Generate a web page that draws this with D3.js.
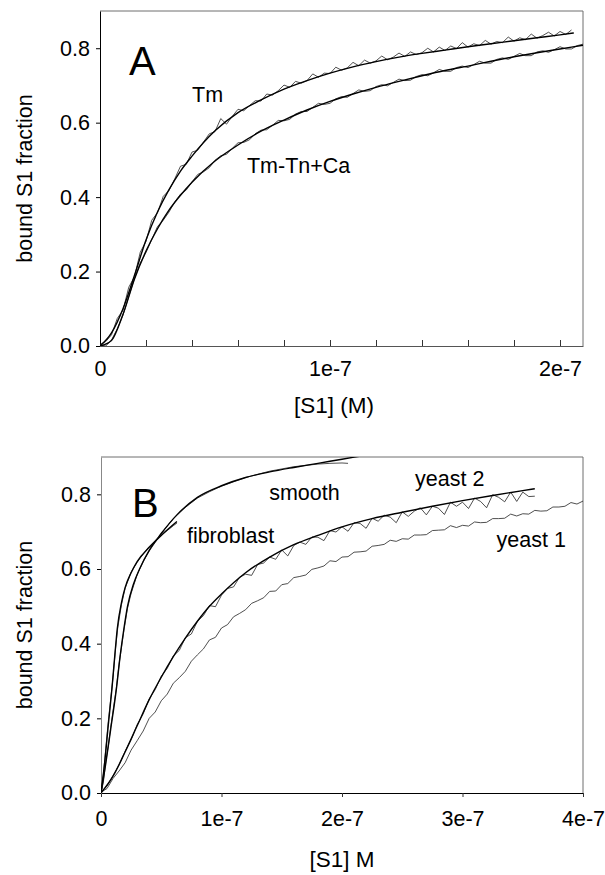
<!DOCTYPE html>
<html>
<head>
<meta charset="utf-8">
<script src="https://cdn.jsdelivr.net/npm/d3@7"></script>
<style>
  body { margin: 0; background: #fff; }
  text { font-family: Arial, "Liberation Sans", sans-serif; fill: #000; }
</style>
</head>
<body>
<div id="chart"></div>
<script>
// ---------------------------//
//       DATA                 //
// ---------------------------//

// x in units of 1e-7 M, y = bound S1 fraction
// Panel A: raw traces sampled every 0.025e-7 M
const stepA = 0.025;
const tmData = [0.004,0.012,0.03,0.074,0.096,0.158,0.186,0.252,0.281,0.338,0.358,0.402,0.418,0.449,0.483,0.488,0.521,0.526,0.548,0.57,
  0.576,0.611,0.596,0.617,0.636,0.632,0.646,0.659,0.658,0.677,0.674,0.686,0.701,0.695,0.711,0.706,0.713,0.731,0.722,0.733,
  0.732,0.749,0.741,0.747,0.762,0.753,0.768,0.76,0.766,0.779,0.769,0.776,0.787,0.778,0.79,0.783,0.788,0.8,0.79,0.803,
  0.794,0.806,0.799,0.815,0.803,0.812,0.807,0.821,0.811,0.818,0.815,0.83,0.819,0.828,0.823,0.838,0.827,0.834,0.843,0.833,
  0.845,0.837,0.849];
const tmTnCaData = [0.003,0.0,0.016,0.046,0.083,0.133,0.182,0.223,0.251,0.286,0.321,0.338,0.36,0.387,0.408,0.419,0.441,0.461,0.468,0.479,
  0.499,0.511,0.515,0.531,0.546,0.547,0.554,0.57,0.58,0.581,0.593,0.606,0.605,0.609,0.623,0.63,0.63,0.641,0.652,0.649,
  0.652,0.664,0.67,0.668,0.678,0.688,0.684,0.686,0.697,0.702,0.699,0.708,0.717,0.713,0.714,0.724,0.729,0.726,0.734,0.743,
  0.738,0.738,0.748,0.752,0.748,0.756,0.765,0.76,0.76,0.77,0.774,0.77,0.778,0.786,0.78,0.78,0.79,0.793,0.789,0.796,
  0.804,0.798,0.798,0.807,0.811];
const tmFit = [[0,0],[0.05,0.035],[0.1,0.1],[0.15,0.19],[0.2,0.285],[0.25,0.36],[0.3,0.42],[0.35,0.47],[0.4,0.51],
  [0.5,0.578],[0.6,0.627],[0.7,0.661],[0.8,0.69],[0.9,0.713],[1.0,0.733],[1.1,0.75],[1.2,0.764],[1.3,0.776],[1.4,0.786],
  [1.5,0.795],[1.6,0.804],[1.7,0.812],[1.8,0.82],[1.9,0.828],[2.0,0.836],[2.06,0.841]];
const tmTnCaFit = [[0,0],[0.05,0.015],[0.1,0.085],[0.15,0.18],[0.2,0.255],[0.25,0.315],[0.3,0.365],[0.35,0.405],[0.4,0.44],
  [0.5,0.497],[0.6,0.54],[0.7,0.577],[0.8,0.607],[0.9,0.634],[1.0,0.657],[1.1,0.677],[1.2,0.695],[1.3,0.711],[1.4,0.726],
  [1.5,0.74],[1.6,0.752],[1.7,0.765],[1.8,0.777],[1.9,0.788],[2.0,0.798],[2.1,0.808]];

// Panel B: slow traces sampled every 0.05e-7 M
const stepB = 0.05;
const yeast1Data = [0.002,0.012,0.039,0.059,0.081,0.115,0.14,0.166,0.2,0.217,0.247,0.265,0.294,0.309,0.326,0.353,0.37,0.386,0.41,0.417,
  0.442,0.451,0.472,0.481,0.491,0.508,0.515,0.523,0.54,0.541,0.558,0.561,0.577,0.58,0.584,0.599,0.603,0.608,0.622,0.62,
  0.632,0.633,0.645,0.646,0.648,0.661,0.663,0.666,0.677,0.674,0.681,0.68,0.691,0.691,0.692,0.703,0.704,0.705,0.716,0.711,
  0.717,0.715,0.726,0.724,0.725,0.735,0.735,0.736,0.747,0.742,0.748,0.747,0.757,0.755,0.756,0.766,0.766,0.768,0.778,0.774,0.782];
const yeast2Data = [0.002,0.018,0.047,0.075,0.112,0.143,0.183,0.212,0.252,0.277,0.313,0.334,0.367,0.382,0.416,0.426,0.46,0.475,0.502,0.499,
  0.53,0.548,0.552,0.578,0.586,0.583,0.612,0.616,0.632,0.626,0.651,0.635,0.663,0.672,0.666,0.686,0.685,0.676,0.703,0.699,
  0.713,0.701,0.724,0.722,0.709,0.736,0.728,0.744,0.739,0.724,0.753,0.741,0.755,0.764,0.745,0.768,0.763,0.746,0.779,0.768,
  0.779,0.762,0.79,0.781,0.764,0.799,0.792,0.78,0.806,0.781,0.806,0.794,0.795];
const yeast2Fit = [[0,0],[0.1,0.045],[0.2,0.11],[0.3,0.18],[0.4,0.25],[0.5,0.31],[0.6,0.365],[0.7,0.415],[0.8,0.46],[0.9,0.5],
  [1.0,0.533],[1.2,0.59],[1.4,0.632],[1.6,0.665],[1.8,0.69],[2.0,0.713],[2.25,0.735],[2.5,0.752],[2.75,0.768],[3.0,0.783],
  [3.25,0.797],[3.5,0.81],[3.6,0.815]];
const smoothData = [[0,0],[0.02,0.03],[0.04,0.085],[0.06,0.125],[0.08,0.175],[0.1,0.22],[0.127,0.28],[0.15,0.345],[0.17,0.39],
  [0.19,0.435],[0.22,0.495],[0.25,0.535],[0.3,0.585],[0.35,0.62],[0.4,0.648],[0.5,0.695],[0.6,0.735],[0.7,0.765],[0.8,0.79],
  [0.9,0.807],[1.0,0.822],[1.2,0.845],[1.4,0.862],[1.6,0.874],[1.8,0.881],[1.9,0.883],[2.0,0.884],[2.05,0.883]];
const smoothFit = [[0,0],[0.04,0.08],[0.08,0.17],[0.127,0.277],[0.16,0.37],[0.19,0.44],[0.22,0.5],[0.27,0.56],[0.32,0.6],
  [0.4,0.65],[0.5,0.695],[0.63,0.745],[0.8,0.792],[1.0,0.823],[1.2,0.845],[1.4,0.86],[1.6,0.872],[1.8,0.883],[2.0,0.894],[2.2,0.905]];
const fibroData = [[0,0],[0.02,0.05],[0.04,0.12],[0.06,0.19],[0.08,0.25],[0.1,0.31],[0.12,0.385],[0.14,0.445],[0.17,0.505],
  [0.2,0.548],[0.25,0.592],[0.3,0.618],[0.35,0.64],[0.4,0.66],[0.45,0.676],[0.5,0.69],[0.55,0.703],[0.6,0.716],[0.63,0.723]];
const fibroFit = [[0,0],[0.03,0.08],[0.06,0.18],[0.09,0.277],[0.115,0.37],[0.135,0.44],[0.17,0.51],[0.2,0.55],[0.25,0.59],
  [0.3,0.62],[0.4,0.658],[0.5,0.69],[0.63,0.727]];

// Ticks
const yTicks = [0, 0.2, 0.4, 0.6, 0.8];
const xTicksA = [0, 0.2, 0.4, 0.6, 0.8, 1, 1.2, 1.4, 1.6, 1.8, 2];
const xLabelsA = {0: "0", 1: "1e-7", 2: "2e-7"};
const xTicksB = [0, 1, 2, 3, 4];
const xLabelsB = {0: "0", 1: "1e-7", 2: "2e-7", 3: "3e-7", 4: "4e-7"};

// ---------------------------//
//       SET  CANVAS          //
// ---------------------------//
const svg = d3.select("#chart")
    .append("svg")
    .attr("width", 605)
    .attr("height", 875);

const toPairs = (arr, step) => arr.map((v, i) => [i * step, v]);

function drawPanel(p) {
    const g = svg.append("g")
        .attr("transform", `translate(${p.left},${p.top})`);

    const x = d3.scaleLinear().domain(p.xDomain).range([0, p.width]);
    const y = d3.scaleLinear().domain([0, 0.9]).range([p.height, 0]);

    g.append("clipPath").attr("id", "clip" + p.id)
        .append("rect").attr("width", p.width).attr("height", p.height);

    // top and right frame
    g.append("path")
        .attr("d", `M0,0H${p.width}V${p.height}`)
        .attr("fill", "none")
        .attr("stroke", "#6e6e6e");

    // X axis
    const xAxis = g.append("g")
        .attr("transform", `translate(0,${p.height})`)
        .call(d3.axisBottom(x)
            .tickValues(p.xTicks)
            .tickSizeInner(p.xTickSize)
            .tickSizeOuter(0)
            .tickPadding(p.xPad)
            .tickFormat(d => p.xLabels[d] || ""));
    xAxis.select(".domain").attr("stroke", p.bottomColor);
    xAxis.selectAll(".tick line").attr("stroke", "#333");
    xAxis.selectAll("text").style("font-size", "21.5px");

    // Y axis
    const yAxis = g.append("g")
        .call(d3.axisLeft(y)
            .tickValues(yTicks)
            .tickSizeInner(4)
            .tickSizeOuter(0)
            .tickPadding(6)
            .tickFormat(d3.format(".1f")));
    yAxis.select(".domain").attr("stroke", p.leftColor);
    yAxis.selectAll("text").style("font-size", "21.5px");

    // axis titles
    g.append("text")
        .attr("transform", `translate(${32 - p.left},${p.height / 2}) rotate(-90)`)
        .attr("text-anchor", "middle")
        .style("font-size", "21.5px")
        .text("bound S1 fraction");

    g.append("text")
        .attr("x", p.titleX)
        .attr("y", p.height + p.titleDy)
        .attr("text-anchor", "middle")
        .style("font-size", "22.5px")
        .text(p.xTitle);

    // curves
    const line = d3.line()
        .x(d => x(d[0]))
        .y(d => y(d[1]));
    const smoothLine = d3.line()
        .x(d => x(d[0]))
        .y(d => y(d[1]))
        .curve(d3.curveMonotoneX);

    const plot = g.append("g").attr("clip-path", `url(#clip${p.id})`);
    p.series.forEach(s => {
        plot.append("path")
            .datum(s.values)
            .attr("fill", "none")
            .attr("stroke", s.fit ? "#000" : "#222")
            .attr("stroke-width", s.fit ? 1.4 : 0.8)
            .attr("stroke-linejoin", "round")
            .attr("d", s.fit ? smoothLine : line);
    });

    // curve labels
    p.labels.forEach(l => {
        g.append("text")
            .attr("x", x(l.x))
            .attr("y", y(l.y))
            .style("font-size", "21.5px")
            .text(l.text);
    });

    // panel letter
    g.append("text")
        .attr("x", p.letterX)
        .attr("y", p.letterY)
        .style("font-size", "40px")
        .text(p.letter);
}

drawPanel({
    id: "A", letter: "A", letterX: 29, letterY: 64,
    left: 100, top: 11, width: 483, height: 335,
    xDomain: [0, 2.1], xTicks: xTicksA, xLabels: xLabelsA,
    xTickSize: -6, xPad: 15,
    bottomColor: "#555", leftColor: "#000",
    xTitle: "[S1] (M)", titleX: 234, titleDy: 67,
    series: [
        {values: toPairs(tmData, stepA)},
        {values: tmFit, fit: true},
        {values: toPairs(tmTnCaData, stepA)},
        {values: tmTnCaFit, fit: true}
    ],
    labels: [
        {text: "Tm", x: 0.4, y: 0.656},
        {text: "Tm-Tn+Ca", x: 0.639, y: 0.464}
    ]
});

drawPanel({
    id: "B", letter: "B", letterX: 31, letterY: 60,
    left: 101, top: 457, width: 482, height: 336,
    xDomain: [0, 4], xTicks: xTicksB, xLabels: xLabelsB,
    xTickSize: 4, xPad: 14,
    bottomColor: "#000", leftColor: "#888",
    xTitle: "[S1] M", titleX: 241, titleDy: 74,
    series: [
        {values: toPairs(yeast1Data, stepB)},
        {values: toPairs(yeast2Data, stepB)},
        {values: yeast2Fit, fit: true},
        {values: smoothData},
        {values: smoothFit, fit: true},
        {values: fibroData},
        {values: fibroFit, fit: true}
    ],
    labels: [
        {text: "smooth", x: 1.396, y: 0.785},
        {text: "fibroblast", x: 0.713, y: 0.669},
        {text: "yeast 2", x: 2.606, y: 0.821},
        {text: "yeast 1", x: 3.283, y: 0.659}
    ]
});
</script>
</body>
</html>
